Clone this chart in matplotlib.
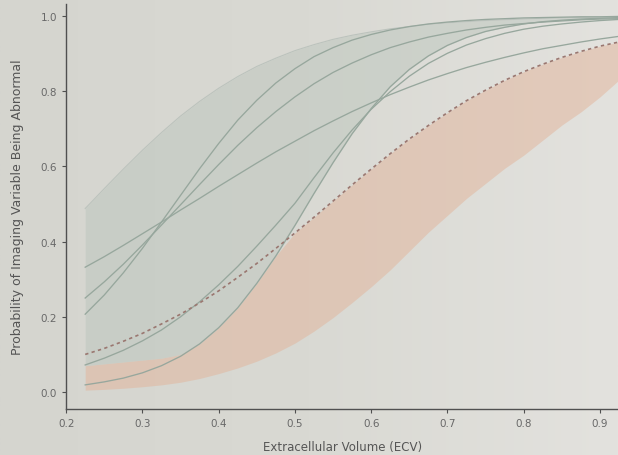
import matplotlib
matplotlib.use("Agg")
import matplotlib.pyplot as plt
import numpy as np
from matplotlib.colors import LinearSegmentedColormap

# ECV grid (x values read at 0.025 spacing)
ecv = [0.225, 0.25, 0.275, 0.30, 0.325, 0.35, 0.375, 0.40, 0.425, 0.45, 0.475,
       0.50, 0.525, 0.55, 0.575, 0.60, 0.625, 0.65, 0.675, 0.70, 0.725, 0.75,
       0.775, 0.80, 0.825, 0.85, 0.875, 0.90, 0.925]

# solid curves
curve_a = [0.332, 0.360, 0.390, 0.421, 0.452, 0.484, 0.515, 0.547, 0.578, 0.609, 0.639,
           0.667, 0.695, 0.721, 0.746, 0.769, 0.791, 0.811, 0.830, 0.847, 0.863, 0.877,
           0.890, 0.902, 0.913, 0.922, 0.931, 0.939, 0.946]
curve_b = [0.207, 0.258, 0.317, 0.382, 0.452, 0.523, 0.594, 0.661, 0.723, 0.776, 0.822,
           0.860, 0.892, 0.916, 0.936, 0.951, 0.963, 0.972, 0.979, 0.984, 0.988, 0.991,
           0.993, 0.995, 0.996, 0.997, 0.998, 0.998, 0.999]
curve_e = [0.250, 0.293, 0.340, 0.391, 0.444, 0.498, 0.552, 0.605, 0.656, 0.703, 0.746,
           0.785, 0.820, 0.850, 0.875, 0.897, 0.916, 0.931, 0.944, 0.954, 0.963, 0.970,
           0.976, 0.980, 0.984, 0.987, 0.990, 0.992, 0.993]
curve_c = [0.072, 0.090, 0.111, 0.136, 0.165, 0.200, 0.240, 0.285, 0.334, 0.388, 0.444,
           0.502, 0.570, 0.636, 0.697, 0.752, 0.799, 0.840, 0.874, 0.901, 0.923, 0.940,
           0.954, 0.965, 0.973, 0.979, 0.984, 0.988, 0.991]
curve_d = [0.019, 0.027, 0.037, 0.051, 0.070, 0.095, 0.128, 0.171, 0.224, 0.289, 0.362,
           0.443, 0.528, 0.610, 0.687, 0.754, 0.812, 0.858, 0.894, 0.922, 0.943, 0.959,
           0.970, 0.979, 0.985, 0.989, 0.992, 0.994, 0.996]
# dashed curve
curve_dash = [0.100, 0.116, 0.135, 0.156, 0.181, 0.207, 0.237, 0.269, 0.305, 0.342, 0.382,
              0.423, 0.465, 0.508, 0.551, 0.593, 0.634, 0.673, 0.709, 0.743, 0.775, 0.803,
              0.829, 0.852, 0.872, 0.890, 0.906, 0.920, 0.931]

# grey band
grey_upper = [0.488, 0.541, 0.593, 0.643, 0.690, 0.734, 0.773, 0.808, 0.839, 0.866, 0.888,
              0.908, 0.924, 0.938, 0.949, 0.958, 0.966, 0.972, 0.978, 0.982, 0.985, 0.988,
              0.990, 0.992, 0.994, 0.995, 0.996, 0.997, 0.997]
grey_lower = [0.070, 0.075, 0.080, 0.085, 0.090, 0.100, 0.128, 0.171, 0.224, 0.289, 0.362,
              0.443, 0.528, 0.610, 0.687, 0.754, 0.812, 0.858, 0.894, 0.922, 0.943, 0.959,
              0.970, 0.979, 0.985, 0.989, 0.992, 0.994, 0.996]
# peach band
peach_upper = [0.070, 0.075, 0.080, 0.085, 0.090, 0.100, 0.128, 0.171, 0.224, 0.289, 0.362,
               0.423, 0.465, 0.508, 0.551, 0.593, 0.634, 0.673, 0.709, 0.743, 0.775, 0.803,
               0.829, 0.852, 0.872, 0.890, 0.906, 0.920, 0.931]
peach_lower = [0.005, 0.007, 0.010, 0.014, 0.019, 0.026, 0.036, 0.049, 0.064, 0.082, 0.104,
               0.130, 0.162, 0.198, 0.238, 0.280, 0.325, 0.375, 0.425, 0.470, 0.515, 0.555,
               0.595, 0.630, 0.670, 0.710, 0.745, 0.785, 0.830]

x_ticks = [0.2, 0.3, 0.4, 0.5, 0.6, 0.7, 0.8, 0.9]
y_ticks = [0.0, 0.2, 0.4, 0.6, 0.8, 1.0]

bg = "#dcdbd6"
fig = plt.figure(figsize=(6.18, 4.56), dpi=100, facecolor=bg)

# photo-like background: darker on the left, lighter on the right
bg_ax = fig.add_axes([0, 0, 1, 1], zorder=-10)
cmap = LinearSegmentedColormap.from_list("bgc", ["#d5d5cf", "#d9d9d3", "#e3e2de"])
bg_ax.imshow(np.linspace(0, 1, 256)[None, :], aspect="auto", cmap=cmap,
             extent=[0, 1, 0, 1])
bg_ax.set_axis_off()

ax = fig.add_axes([0.107, 0.101, 0.893, 0.888])
ax.patch.set_alpha(0)

ax.fill_between(ecv, peach_lower, peach_upper, color="#e2b49a", alpha=0.5, lw=0)
ax.fill_between(ecv, grey_lower, grey_upper, color="#b9c4bb", alpha=0.45, lw=0)
ax.plot(ecv, grey_upper, color="#bcc3bd", lw=0.8)

line_col = "#97a79d"
for c in (curve_a, curve_b, curve_e, curve_c, curve_d):
    ax.plot(ecv, c, color=line_col, lw=0.95)
ax.plot(ecv, curve_dash, color="#9a7770", lw=1.2, linestyle=(0, (2, 2)))

ax.set_xlim(0.2, 0.9236)
ax.set_ylim(-0.045, 1.032)
ax.set_xticks(x_ticks)
ax.set_xticklabels([f"{t:.1f}" for t in x_ticks])
ax.set_yticks(y_ticks)
ax.set_yticklabels([f"{t:.1f}" for t in y_ticks])

for s in ("top", "right"):
    ax.spines[s].set_visible(False)
for s in ("left", "bottom"):
    ax.spines[s].set_color("#505050")
    ax.spines[s].set_linewidth(1.0)
ax.tick_params(colors="#505050", length=3, width=0.8, labelsize=7.5, labelcolor="#686868")

ax.set_xlabel("Extracellular Volume (ECV)", fontsize=8.5, color="#555555", labelpad=9)
ax.set_ylabel("Probability of Imaging Variable Being Abnormal", fontsize=9,
              color="#555555", labelpad=12)

fig.savefig("out.png", dpi=100, facecolor=bg)
